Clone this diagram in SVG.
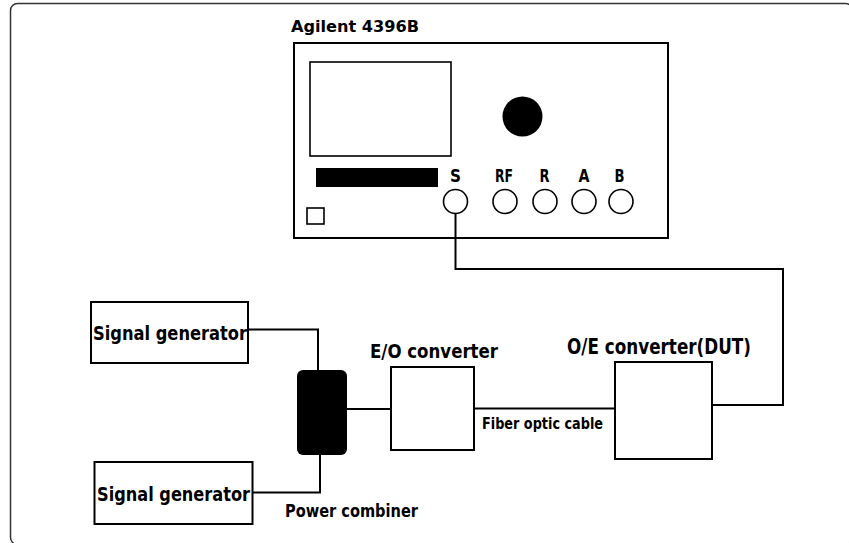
<svg xmlns="http://www.w3.org/2000/svg" width="849" height="543" viewBox="0 0 849 543">
<style>
text{font-family:"Liberation Sans Narrow","DejaVu Sans Condensed","Liberation Sans",sans-serif;font-weight:bold;fill:#000}
.box{fill:#fff;stroke:#000;stroke-width:2}
.thin{fill:#fff;stroke:#000;stroke-width:1.6}
.wire{fill:none;stroke:#000;stroke-width:2}
</style>
<rect x="10.5" y="3.5" width="842" height="541" rx="7" fill="#fff" stroke="#333" stroke-width="1.5"/>
<g id="analyzer">
<text x="291" y="32" font-size="16.5" textLength="128" lengthAdjust="spacingAndGlyphs">Agilent 4396B</text>
<rect class="box" x="294" y="43" width="374" height="195"/>
<rect class="thin" x="310" y="62" width="141" height="94"/>
<circle cx="522.5" cy="116.5" r="20" fill="#000"/>
<rect x="316" y="168" width="122" height="19" fill="#000"/>
<rect class="thin" x="307" y="208" width="17" height="16"/>
<g font-size="17">
<text x="450" y="182" textLength="11" lengthAdjust="spacingAndGlyphs">S</text>
<text x="495" y="182" textLength="18" lengthAdjust="spacingAndGlyphs">RF</text>
<text x="539.5" y="182" textLength="10" lengthAdjust="spacingAndGlyphs">R</text>
<text x="578.5" y="182" textLength="11" lengthAdjust="spacingAndGlyphs">A</text>
<text x="614.5" y="182" textLength="10" lengthAdjust="spacingAndGlyphs">B</text>
</g>
<circle class="thin" cx="455.5" cy="201.5" r="12"/>
<circle class="thin" cx="505" cy="201.5" r="12"/>
<circle class="thin" cx="545" cy="201.5" r="12"/>
<circle class="thin" cx="584" cy="201.5" r="12"/>
<circle class="thin" cx="621" cy="201.5" r="12"/>
</g>
<g id="connectors">
<polyline class="wire" points="455.5,213.5 455.5,269 783,269 783,405 712,405"/>
<polyline class="wire" points="248,329.5 318,329.5 318,370"/>
<polyline class="wire" points="252,492.5 320,492.5 320,455"/>
<line class="wire" x1="346" y1="409" x2="391" y2="409"/>
<line class="wire" x1="474" y1="408.5" x2="615" y2="408.5"/>
<text x="482" y="429" font-size="15.5" textLength="121" lengthAdjust="spacingAndGlyphs">Fiber optic cable</text>
</g>
<g id="siggen1">
<rect class="box" x="91" y="302" width="157" height="61"/>
<text x="93" y="340" font-size="20" textLength="154" lengthAdjust="spacingAndGlyphs">Signal generator</text>
</g>
<g id="siggen2">
<rect class="box" x="94.5" y="462" width="158" height="62"/>
<text x="97" y="501" font-size="20" textLength="153" lengthAdjust="spacingAndGlyphs">Signal generator</text>
</g>
<g id="combiner">
<rect x="297" y="370" width="50" height="85" rx="6" fill="#000"/>
<text x="285" y="517" font-size="18.5" textLength="133" lengthAdjust="spacingAndGlyphs">Power combiner</text>
</g>
<g id="eo">
<text x="370" y="357.5" font-size="19.5" textLength="128" lengthAdjust="spacingAndGlyphs">E/O converter</text>
<rect class="box" x="391" y="367" width="83" height="83"/>
</g>
<g id="oe">
<text x="567" y="354" font-size="20.5" textLength="184" lengthAdjust="spacingAndGlyphs">O/E converter(DUT)</text>
<rect class="box" x="615" y="362" width="97" height="97"/>
</g>
</svg>
